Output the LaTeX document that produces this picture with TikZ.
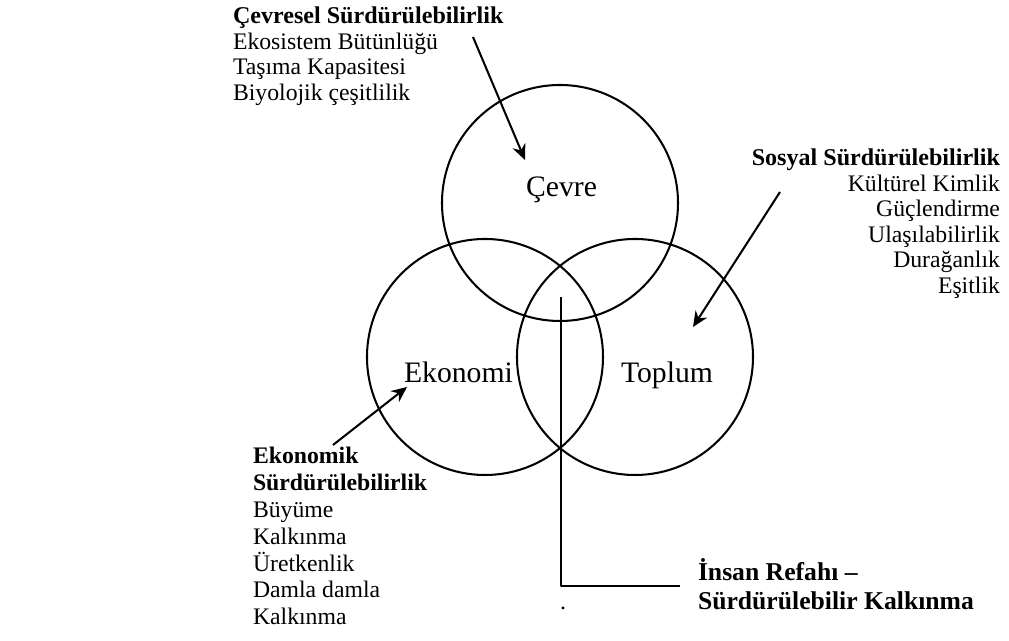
\documentclass[tikz,border=0pt]{standalone}
\usepackage{fontspec}
\setmainfont{Liberation Serif}
\usetikzlibrary{arrows.meta}
\begin{document}
\begin{tikzpicture}[line width=0.58pt, line join=round, >={Stealth[length=4.4pt,width=3.9pt]},
    txt/.style={inner sep=0pt, font=\fontsize{6.75}{7.25}\selectfont},
    lbl/.style={inner sep=0pt, font=\fontsize{8.45}{9}\selectfont},
    ring/.style={circle, draw, minimum size=2.36cm, inner sep=0pt}]
  \useasboundingbox (0,0) rectangle (10.09,6.41);
  % the three circles
  \node[ring] (cevre) at (5.60,4.38) {};
  \node[ring] (ekonomi) at (4.85,2.84) {};
  \node[ring] (toplum) at (6.35,2.84) {};
  \node[lbl, anchor=base] (lcevre) at (5.615,4.44) {Çevre};
  \node[lbl, anchor=base] (lekonomi) at (4.585,2.58) {Ekonomi};
  \node[lbl, anchor=base] (ltoplum) at (6.67,2.58) {Toplum};
  % text blocks
  \node[txt, anchor=north west, align=left] (cevresel) at (2.32,6.35)
    {{\fontsize{6.85}{7.25}\selectfont\bfseries Çevresel Sürdürülebilirlik}\\Ekosistem Bütünlüğü\\Taşıma Kapasitesi\\Biyolojik çeşitlilik};
  \node[txt, anchor=north east, align=right] (sosyal) at (10.01,4.93)
    {{\fontsize{6.85}{7.25}\selectfont\bfseries Sosyal Sürdürülebilirlik}\\Kültürel Kimlik\\Güçlendirme\\Ulaşılabilirlik\\Durağanlık\\Eşitlik};
  \node[txt, anchor=north west, align=left, font=\fontsize{6.75}{7.65}\selectfont] (ekonomik) at (2.52,1.95)
    {\textbf{Ekonomik}\\\textbf{Sürdürülebilirlik}\\Büyüme\\Kalkınma\\Üretkenlik\\Damla damla\\Kalkınma};
  \node[txt, anchor=north west, align=left, font=\fontsize{7.3}{8.2}\selectfont\bfseries] (insan) at (6.97,0.83)
    {İnsan Refahı --\\Sürdürülebilir Kalkınma};
  \node[txt, anchor=base] (nokta) at (5.63,0.31) {.};
  % arrows
  \coordinate (c1) at (4.73,6.04);
  \coordinate (c1u) at (5.25,4.81);
  \coordinate (s1) at (7.80,4.49);
  \coordinate (s1u) at (6.93,3.14);
  \coordinate (e1) at (3.33,1.96);
  \coordinate (e1u) at (4.07,2.54);
  \coordinate (i1) at (5.61,3.44);
  \coordinate (i2) at (6.80,0.55);
  \draw[->] (c1) -- (c1u);
  \draw[->] (s1) -- (s1u);
  \draw[->] (e1) -- (e1u);
  \draw (i1) |- (i2);
\end{tikzpicture}
\end{document}
